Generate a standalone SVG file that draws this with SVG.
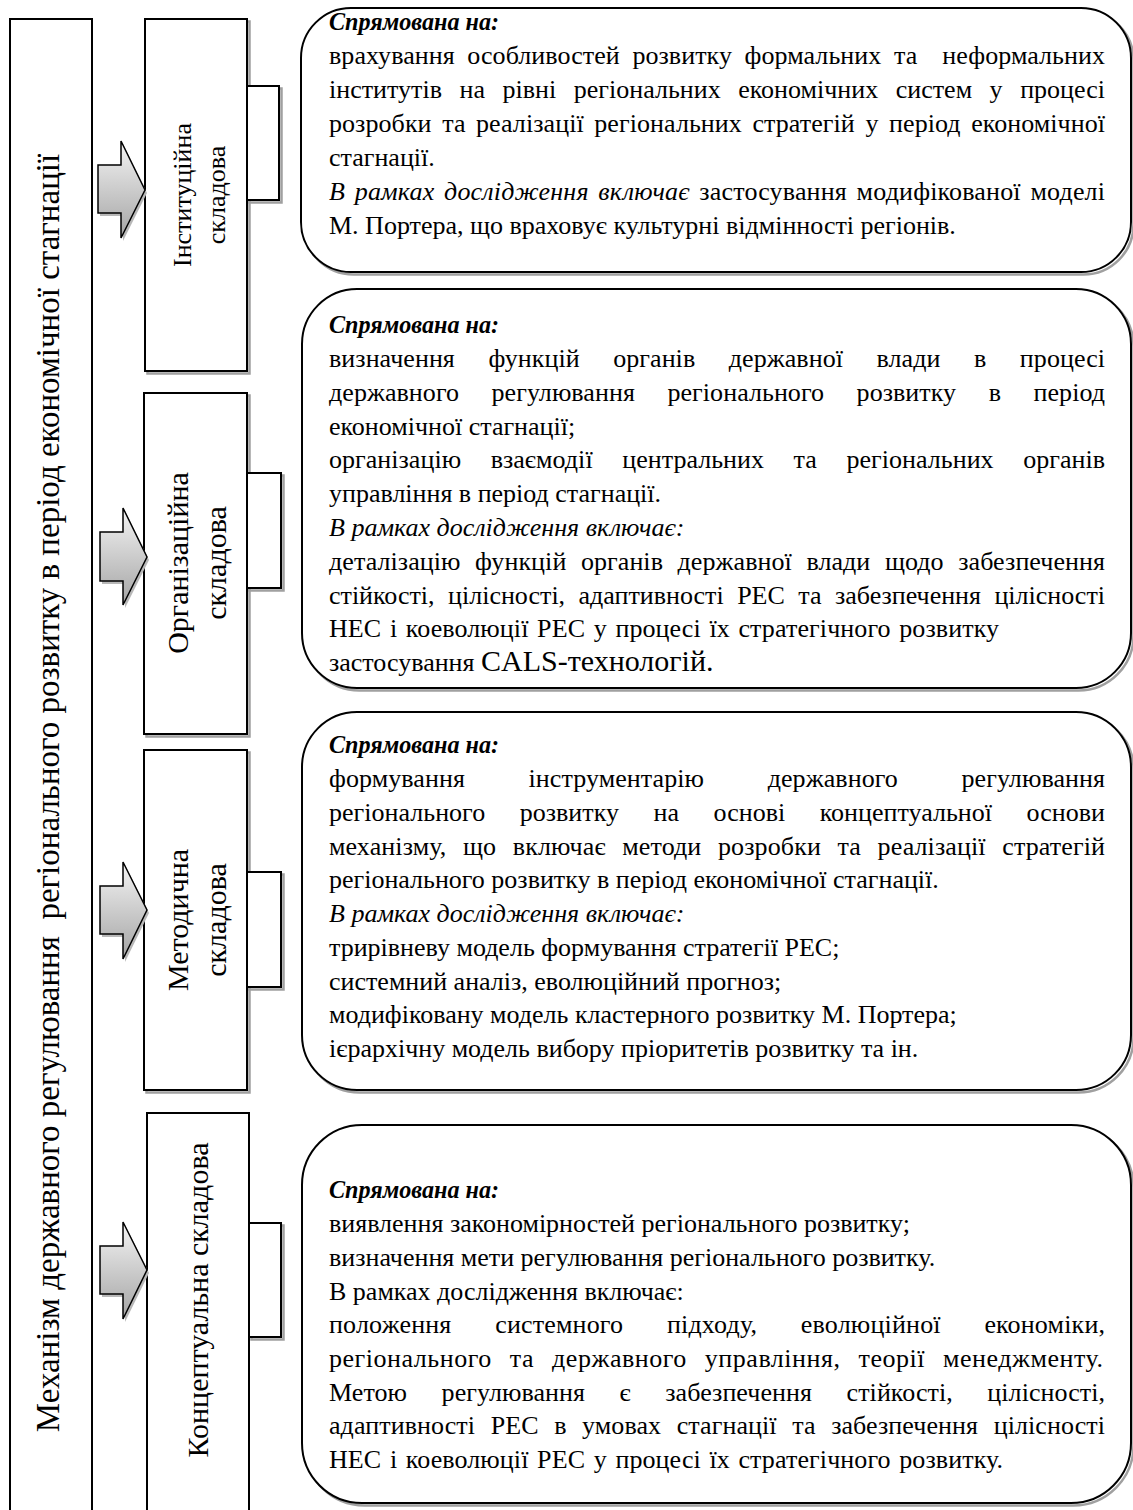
<svg xmlns="http://www.w3.org/2000/svg" width="1133" height="1510" viewBox="0 0 1133 1510">
<defs>
<linearGradient id="ag" x1="0" y1="0" x2="0" y2="1">
<stop offset="0" stop-color="#f4f4f4"/>
<stop offset="1" stop-color="#a4a4a4"/>
</linearGradient>
</defs>
<style>
.box{fill:#fff;stroke:#000;stroke-width:2}
.sh{fill:none;stroke:#a0a0a0;stroke-width:2.5}
.t{font-family:"Liberation Serif","Times New Roman",serif;font-size:26px;fill:#000}
.b{font-weight:bold;font-style:italic}
.i{font-style:italic}
.lbl{font-family:"Liberation Serif","Times New Roman",serif;fill:#000;text-anchor:middle}
.arr{fill:url(#ag);stroke:#000;stroke-width:1.5}
.ash{fill:#b8b8b8;stroke:none}
</style>
<rect width="1133" height="1510" fill="#fff"/>

<g id="mechanism">
<rect class="box" x="10" y="19" width="82" height="1510"/>
<text class="lbl" font-size="33" transform="translate(59,793) rotate(-90)">Механізм державного регулювання&#160; регіонального розвитку в період економічної стагнації</text>
</g>

<g id="inst">
<rect class="sh" x="147.5" y="21.5" width="102" height="352"/>
<rect class="box" x="145" y="19" width="102" height="352"/>
<text class="lbl" font-size="26" transform="translate(191,195) rotate(-90)">Інституційна</text>
<text class="lbl" font-size="26" transform="translate(225,195) rotate(-90)">складова</text>
</g>

<g id="org">
<rect class="sh" x="146.5" y="395.5" width="103" height="341"/>
<rect class="box" x="144" y="393" width="103" height="341"/>
<text class="lbl" font-size="30" transform="translate(188,563) rotate(-90)">Організаційна</text>
<text class="lbl" font-size="30" transform="translate(226,563) rotate(-90)">складова</text>
</g>

<g id="method">
<rect class="sh" x="146.5" y="752.5" width="103" height="340"/>
<rect class="box" x="144" y="750" width="103" height="340"/>
<text class="lbl" font-size="30" transform="translate(188,920) rotate(-90)">Методична</text>
<text class="lbl" font-size="30" transform="translate(226,920) rotate(-90)">складова</text>
</g>

<g id="concept">
<rect class="box" x="147" y="1113" width="102" height="420"/>
<text class="lbl" font-size="30" transform="translate(208,1300) rotate(-90)">Концептуальна складова</text>
</g>

<g id="connectors">
<polygon class="ash" points="100,168 123,168 123,144 147,193 123,241 123,216 100,216"/>
<polygon class="arr" points="98,165 121,165 121,141 145,190 121,238 121,213 98,213"/>
<polygon class="ash" points="102,535 125,535 125,511 149,560 125,608 125,584 102,584"/>
<polygon class="arr" points="100,532 123,532 123,508 147,557 123,605 123,581 100,581"/>
<polygon class="ash" points="102,889 125,889 125,865 149,913 125,962 125,937 102,937"/>
<polygon class="arr" points="100,886 123,886 123,862 147,910 123,959 123,934 100,934"/>
<polygon class="ash" points="102,1249 125,1249 125,1225 149,1273 125,1322 125,1297 102,1297"/>
<polygon class="arr" points="100,1246 123,1246 123,1222 147,1270 123,1319 123,1294 100,1294"/>
<rect class="sh" x="249.5" y="88.5" width="32" height="114"/>
<rect class="box" x="247" y="86" width="32" height="114"/>
<rect class="sh" x="249.5" y="475.5" width="34" height="115"/>
<rect class="box" x="247" y="473" width="34" height="115"/>
<rect class="sh" x="249.5" y="874.5" width="34" height="115"/>
<rect class="box" x="247" y="872" width="34" height="115"/>
<rect class="sh" x="251.5" y="1225.5" width="32" height="114"/>
<rect class="box" x="249" y="1223" width="32" height="114"/>
</g>

<g id="desc-inst">
<rect class="sh" x="303.5" y="10.5" width="830" height="264" rx="50"/>
<rect class="box" x="301" y="8" width="830" height="264" rx="50"/>
<text class="t b" x="329" y="30" textLength="170" lengthAdjust="spacingAndGlyphs">Спрямована на:</text>
<text class="t" x="329" y="64" textLength="776" lengthAdjust="spacing" style="word-spacing:6px">врахування особливостей розвитку формальних та&#160; неформальних</text>
<text class="t" x="329" y="98" textLength="776" lengthAdjust="spacing" style="word-spacing:11px">інститутів на рівні регіональних економічних систем у процесі</text>
<text class="t" x="329" y="132" textLength="776" lengthAdjust="spacing" style="word-spacing:4px">розробки та реалізації регіональних стратегій у період економічної</text>
<text class="t" x="329" y="166">стагнації.</text>
<text class="t" x="329" y="200" textLength="776" lengthAdjust="spacing" style="word-spacing:3px"><tspan class="i">В рамках дослідження включає</tspan> застосування модифікованої моделі</text>
<text class="t" x="329" y="234">М. Портера, що враховує культурні відмінності регіонів.</text>
</g>

<g id="desc-org">
<rect class="sh" x="304.5" y="291.5" width="829" height="399" rx="55"/>
<rect class="box" x="302" y="289" width="829" height="399" rx="55"/>
<text class="t b" x="329" y="333" textLength="170" lengthAdjust="spacingAndGlyphs">Спрямована на:</text>
<text class="t" x="329" y="367" textLength="776" lengthAdjust="spacing" style="word-spacing:27px">визначення функцій органів державної влади в процесі</text>
<text class="t" x="329" y="401" textLength="776" lengthAdjust="spacing" style="word-spacing:26px">державного регулювання регіонального розвитку в період</text>
<text class="t" x="329" y="435">економічної стагнації;</text>
<text class="t" x="329" y="468" textLength="776" lengthAdjust="spacing" style="word-spacing:23px">організацію взаємодії центральних та регіональних органів</text>
<text class="t" x="329" y="502">управління в період стагнації.</text>
<text class="t i" x="329" y="536">В рамках дослідження включає:</text>
<text class="t" x="329" y="570" textLength="776" lengthAdjust="spacing" style="word-spacing:8px">деталізацію функцій органів державної влади щодо забезпечення</text>
<text class="t" x="329" y="604" textLength="776" lengthAdjust="spacing" style="word-spacing:7px">стійкості, цілісності, адаптивності РЕС та забезпечення цілісності</text>
<text class="t" x="329" y="637" textLength="670" lengthAdjust="spacing" style="word-spacing:2px">НЕС і коеволюції РЕС у процесі їх стратегічного розвитку</text>
<text class="t" x="329" y="671">застосування <tspan font-size="30">CALS-технологій.</tspan></text>
</g>

<g id="desc-method">
<rect class="sh" x="304.5" y="714.5" width="829" height="378" rx="55"/>
<rect class="box" x="302" y="712" width="829" height="378" rx="55"/>
<text class="t b" x="329" y="753" textLength="170" lengthAdjust="spacingAndGlyphs">Спрямована на:</text>
<text class="t" x="329" y="787" textLength="776" lengthAdjust="spacing" style="word-spacing:57px">формування інструментарію державного регулювання</text>
<text class="t" x="329" y="821" textLength="776" lengthAdjust="spacing" style="word-spacing:28px">регіонального розвитку на основі концептуальної основи</text>
<text class="t" x="329" y="855" textLength="776" lengthAdjust="spacing" style="word-spacing:10px">механізму, що включає методи розробки та реалізації стратегій</text>
<text class="t" x="329" y="888">регіонального розвитку в період економічної стагнації.</text>
<text class="t i" x="329" y="922">В рамках дослідження включає:</text>
<text class="t" x="329" y="956">трирівневу модель формування стратегії РЕС;</text>
<text class="t" x="329" y="990">системний аналіз, еволюційний прогноз;</text>
<text class="t" x="329" y="1023">модифіковану модель кластерного розвитку М. Портера;</text>
<text class="t" x="329" y="1057">ієрархічну модель вибору пріоритетів розвитку та ін.</text>
</g>

<g id="desc-concept">
<rect class="sh" x="304.5" y="1127.5" width="829" height="378" rx="60"/>
<rect class="box" x="302" y="1125" width="829" height="378" rx="60"/>
<text class="t b" x="329" y="1198" textLength="170" lengthAdjust="spacingAndGlyphs">Спрямована на:</text>
<text class="t" x="329" y="1232">виявлення закономірностей регіонального розвитку;</text>
<text class="t" x="329" y="1266">визначення мети регулювання регіонального розвитку.</text>
<text class="t" x="329" y="1300">В рамках дослідження включає:</text>
<text class="t" x="329" y="1333" textLength="776" lengthAdjust="spacing" style="word-spacing:37px">положення системного підходу, еволюційної економіки,</text>
<text class="t" x="329" y="1367" textLength="774" lengthAdjust="spacing" style="word-spacing:11px">регіонального та державного управління, теорії менеджменту.</text>
<text class="t" x="329" y="1401" textLength="776" lengthAdjust="spacing" style="word-spacing:28px">Метою регулювання є забезпечення стійкості, цілісності,</text>
<text class="t" x="329" y="1434" textLength="776" lengthAdjust="spacing" style="word-spacing:9px">адаптивності РЕС в умовах стагнації та забезпечення цілісності</text>
<text class="t" x="329" y="1468" textLength="674" lengthAdjust="spacing" style="word-spacing:2px">НЕС і коеволюції РЕС у процесі їх стратегічного розвитку.</text>
</g>
</svg>
